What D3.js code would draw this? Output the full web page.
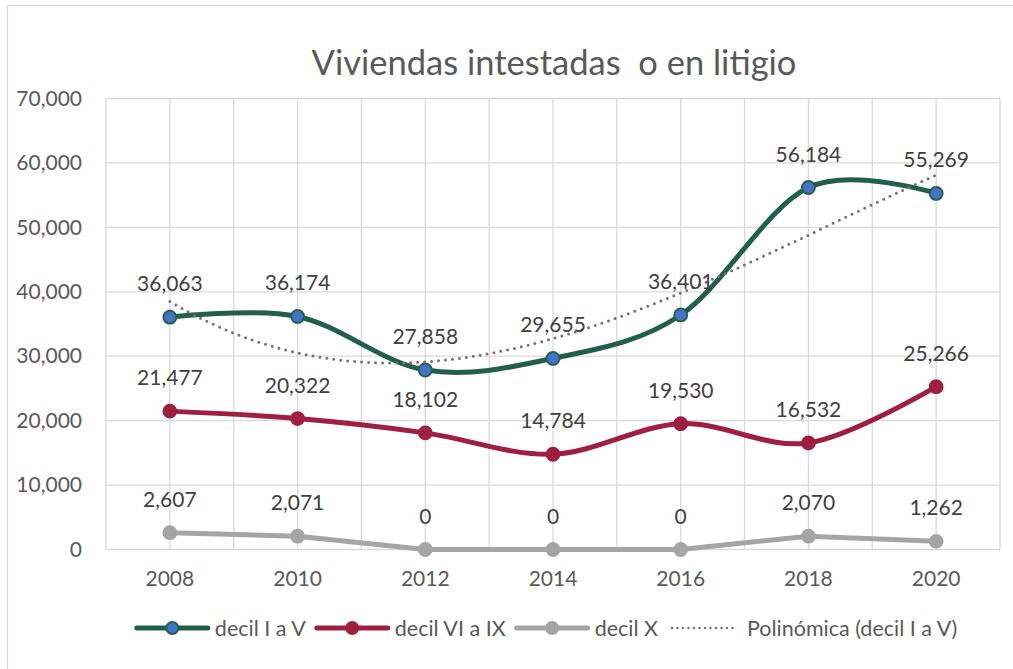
<!DOCTYPE html>
<html>
<head>
<meta charset="utf-8">
<script src="https://cdn.jsdelivr.net/npm/d3@7"></script>
<style>
  html, body { margin: 0; padding: 0; background: #ffffff; }
  svg { display: block; }
  text { font-family: Lato, "Open Sans", sans-serif; }
</style>
</head>
<body>
<svg id="chart" width="1013" height="669"></svg>
<script>
// Categories and series
const years = ["2008", "2010", "2012", "2014", "2016", "2018", "2020"];
const decilIaV = [36063, 36174, 27858, 29655, 36401, 56184, 55269];
const decilVIaIX = [21477, 20322, 18102, 14784, 19530, 16532, 25266];
const decilX = [2607, 2071, 0, 0, 0, 2070, 1262];
const yTicks = [0, 10000, 20000, 30000, 40000, 50000, 60000, 70000];
const titleText = "Viviendas intestadas  o en litigio";
const legendLabels = ["decil I a V", "decil VI a IX", "decil X", "Polinómica (decil I a V)"];
const trendOrder = 3;

const svg = d3.select("#chart");
const W = 1013, H = 669;
const plot = { left: 106, right: 1000, top: 98.5, bottom: 549.5 };

const green = "#215E4B", blue = "#4472C4", red = "#9E1F40", gray = "#A5A5A5",
      trendColor = "#767171", grid = "#D9D9D9", axisText = "#595959", labelText = "#404040";

// outer chart frame
svg.append("rect").attr("x", 7.5).attr("y", 5.5).attr("width", W + 10).attr("height", H + 10)
  .attr("fill", "#fff").attr("stroke", "#D9D9D9").attr("stroke-width", 1.2);

const x = d3.scaleBand().domain(years).range([plot.left, plot.right]).padding(0);
const bw = x.bandwidth();
const cx = d => x(d) + bw / 2;
const y = d3.scaleLinear().domain([0, 70000]).range([plot.bottom, plot.top]);

// title
svg.append("text").attr("x", (plot.left + plot.right) / 2 + 1).attr("y", 75)
  .attr("text-anchor", "middle").attr("font-size", 34.5).attr("fill", axisText)
  .style("white-space", "pre").text(titleText);

// gridlines: vertical at category edges and centres
const vLines = [];
years.forEach(yr => { vLines.push(x(yr)); vLines.push(cx(yr)); });
vLines.push(plot.right);
svg.append("g").selectAll("line").data(vLines).join("line")
  .attr("x1", d => d).attr("x2", d => d).attr("y1", plot.top).attr("y2", plot.bottom)
  .attr("stroke", grid).attr("stroke-width", 1.3);
svg.append("g").selectAll("line").data(yTicks).join("line")
  .attr("x1", plot.left).attr("x2", plot.right).attr("y1", d => y(d)).attr("y2", d => y(d))
  .attr("stroke", grid).attr("stroke-width", 1.3);

// y axis labels
const fmt = d3.format(",");
const yAxis = d3.axisLeft(y).tickValues(yTicks).tickFormat(fmt).tickSize(0).tickPadding(0);
const gy = svg.append("g").attr("transform", "translate(82,0)").call(yAxis);
gy.select(".domain").remove();
gy.selectAll("text").attr("font-size", 21).attr("fill", axisText)
  .style("font-family", "Lato, 'Open Sans', sans-serif");

// x axis labels
const xAxis = d3.axisBottom(x).tickSize(0).tickPadding(0);
const gx = svg.append("g").attr("transform", "translate(0,571)").call(xAxis);
gx.select(".domain").remove();
gx.selectAll("text").attr("font-size", 21).attr("fill", axisText)
  .style("font-family", "Lato, 'Open Sans', sans-serif");

// series
const smooth = d3.line().x((d, i) => cx(years[i])).y(d => y(d)).curve(d3.curveCardinal.tension(0));
const straight = d3.line().x((d, i) => cx(years[i])).y(d => y(d));

const series = [
  { values: decilIaV, color: green, fill: blue, line: smooth, r: 6.5 },
  { values: decilVIaIX, color: red, fill: red, line: smooth, r: 6.5 },
  { values: decilX, color: gray, fill: gray, line: straight, r: 6.5 }
];

series.forEach(s => {
  svg.append("path").attr("d", s.line(s.values)).attr("fill", "none")
    .attr("stroke", s.color).attr("stroke-width", 5).attr("stroke-linejoin", "round")
    .attr("stroke-linecap", "round");
  svg.append("g").selectAll("circle").data(s.values).join("circle")
    .attr("cx", (d, i) => cx(years[i])).attr("cy", d => y(d)).attr("r", s.r)
    .attr("fill", s.fill).attr("stroke", s.color).attr("stroke-width", 1.8);
});

// polynomial least-squares trend over category index 1..n
function polyFit(vals, order) {
  const n = order + 1;
  const A = Array.from({ length: n }, () => new Array(n + 1).fill(0));
  vals.forEach((v, i) => {
    const t = i + 1;
    for (let r = 0; r < n; r++) {
      for (let c = 0; c < n; c++) A[r][c] += Math.pow(t, r + c);
      A[r][n] += v * Math.pow(t, r);
    }
  });
  for (let p = 0; p < n; p++) {
    let best = p;
    for (let r = p + 1; r < n; r++) if (Math.abs(A[r][p]) > Math.abs(A[best][p])) best = r;
    [A[p], A[best]] = [A[best], A[p]];
    for (let r = 0; r < n; r++) {
      if (r === p) continue;
      const f = A[r][p] / A[p][p];
      for (let c = p; c <= n; c++) A[r][c] -= f * A[p][c];
    }
  }
  return A.map((row, i) => row[n] / row[i]);
}
const coef = polyFit(decilIaV, trendOrder);
const trendAt = t => coef.reduce((s, c, k) => s + c * Math.pow(t, k), 0);
const tToX = d3.scaleLinear().domain([1, years.length]).range([cx(years[0]), cx(years[years.length - 1])]);
const trendPts = d3.range(1, years.length + 0.0001, 0.05).map(t => [tToX(t), y(trendAt(t))]);
svg.append("path").attr("d", d3.line()(trendPts)).attr("fill", "none")
  .attr("stroke", trendColor).attr("stroke-width", 3).attr("stroke-linecap", "round")
  .attr("stroke-dasharray", "0 7");

// data labels
series.forEach(s => {
  svg.append("g").selectAll("text").data(s.values).join("text")
    .attr("x", (d, i) => cx(years[i])).attr("y", d => y(d) - 26)
    .attr("text-anchor", "middle").attr("font-size", 21).attr("fill", labelText)
    .text(d => fmt(d));
});

// legend
const legendItems = [
  { label: legendLabels[0], color: green, fill: blue, dotted: false },
  { label: legendLabels[1], color: red, fill: red, dotted: false },
  { label: legendLabels[2], color: gray, fill: gray, dotted: false },
  { label: legendLabels[3], color: trendColor, dotted: true }
];
const legendY = 628, sampleW = 71, textGap = 7, itemGap = 11, legendCenter = 547, legendFont = 21.5;
const lg = svg.append("g");
const widths = legendItems.map(it => {
  const t = lg.append("text").attr("font-size", legendFont).text(it.label);
  const w = t.node().getComputedTextLength();
  t.remove();
  return w;
});
const total = d3.sum(widths) + legendItems.length * (sampleW + textGap) + (legendItems.length - 1) * itemGap;
let lx = legendCenter - total / 2;
legendItems.forEach((it, i) => {
  if (it.dotted) {
    lg.append("line").attr("x1", lx + 3).attr("x2", lx + sampleW - 3).attr("y1", legendY).attr("y2", legendY)
      .attr("stroke", it.color).attr("stroke-width", 2.5).attr("stroke-linecap", "round")
      .attr("stroke-dasharray", "0 5.5");
  } else {
    lg.append("line").attr("x1", lx).attr("x2", lx + sampleW).attr("y1", legendY).attr("y2", legendY)
      .attr("stroke", it.color).attr("stroke-width", 5).attr("stroke-linecap", "round");
    lg.append("circle").attr("cx", lx + sampleW / 2).attr("cy", legendY).attr("r", 6)
      .attr("fill", it.fill).attr("stroke", it.color).attr("stroke-width", 1.8);
  }
  lg.append("text").attr("x", lx + sampleW + textGap).attr("y", legendY)
    .attr("dominant-baseline", "central").attr("font-size", legendFont).attr("fill", axisText)
    .text(it.label);
  lx += sampleW + textGap + widths[i] + itemGap;
});
</script>
</body>
</html>
